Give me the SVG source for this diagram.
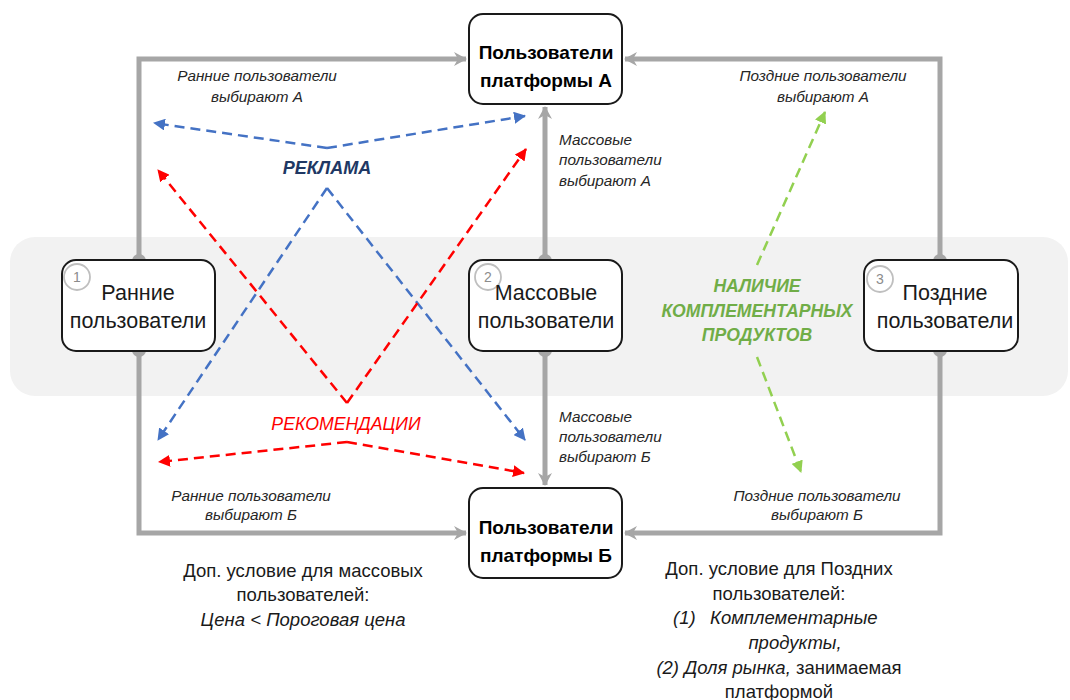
<svg xmlns="http://www.w3.org/2000/svg" width="1070" height="700" viewBox="0 0 1070 700">
<style>
.box{fill:#fff;stroke:#1a1a1a;stroke-width:2}
.nt{font-family:"Liberation Sans",Arial,sans-serif;font-size:21.5px;fill:#1a1a1a;text-anchor:middle}
.bt{font-family:"Liberation Sans",Arial,sans-serif;font-size:19px;font-weight:bold;fill:#000;text-anchor:middle}
.num{font-family:"Liberation Sans",Arial,sans-serif;font-size:14px;fill:#8c8c8c;text-anchor:middle}
.nc{fill:#fff;stroke:#bfbfbf;stroke-width:1.8}
.gl{fill:none;stroke:#a6a6a6;stroke-width:5;marker-end:url(#ga)}
.dot{fill:#a6a6a6}
.lb{font-family:"Liberation Sans",Arial,sans-serif;font-size:15.3px;font-style:italic;fill:#262626}
.c{text-anchor:middle}
.bl{fill:none;stroke:#4472c4;stroke-width:2.5;stroke-dasharray:10 6;marker-end:url(#ba)}
.rd{fill:none;stroke:#ff0000;stroke-width:2.5;stroke-dasharray:10 6;marker-end:url(#ra)}
.gr{fill:none;stroke:#92d050;stroke-width:2.5;stroke-dasharray:10 6;marker-end:url(#gra)}
.ft{font-family:"Liberation Sans",Arial,sans-serif;font-size:18.5px;fill:#1a1a1a;text-anchor:middle}
.it{font-style:italic}
</style>
<defs>
<marker id="ga" markerUnits="userSpaceOnUse" markerWidth="20" markerHeight="20" refX="13" refY="8" orient="auto" viewBox="0 0 20 16">
<path d="M1,1 L14,8 L1,15 L5,8 Z" fill="#a6a6a6"/>
</marker>
<marker id="ba" markerUnits="userSpaceOnUse" markerWidth="14" markerHeight="12" refX="11" refY="6" orient="auto" viewBox="0 0 14 12">
<path d="M0,0 L12,6 L0,12 Z" fill="#4472c4"/>
</marker>
<marker id="ra" markerUnits="userSpaceOnUse" markerWidth="14" markerHeight="12" refX="11" refY="6" orient="auto" viewBox="0 0 14 12">
<path d="M0,0 L12,6 L0,12 Z" fill="#ff0000"/>
</marker>
<marker id="gra" markerUnits="userSpaceOnUse" markerWidth="14" markerHeight="12" refX="11" refY="6" orient="auto" viewBox="0 0 14 12">
<path d="M0,0 L12,6 L0,12 Z" fill="#92d050"/>
</marker>
</defs>
<rect x="10" y="237" width="1058" height="159" rx="25" fill="#f2f2f2"/>
<g id="connectors">
<path class="gl" d="M139,260 V59 H466"/>
<path class="gl" d="M940,260 V59 H625"/>
<path class="gl" d="M545,260 V107"/>
<path class="gl" d="M545,351 V485"/>
<path class="gl" d="M139,351 V533 H466"/>
<path class="gl" d="M940,351 V533 H625"/>
<circle class="dot" cx="139" cy="261" r="7"/>
<circle class="dot" cx="139" cy="350" r="7"/>
<circle class="dot" cx="545" cy="261" r="7"/>
<circle class="dot" cx="545" cy="350" r="7"/>
<circle class="dot" cx="940" cy="261" r="7"/>
<circle class="dot" cx="940" cy="350" r="7"/>
<line class="bl" x1="327" y1="148" x2="154" y2="123"/>
<line class="bl" x1="327" y1="148" x2="525" y2="116"/>
<line class="bl" x1="327" y1="188" x2="158" y2="440"/>
<line class="bl" x1="327" y1="188" x2="525" y2="440"/>
<line class="rd" x1="347" y1="403" x2="158" y2="170"/>
<line class="rd" x1="347" y1="403" x2="526" y2="149"/>
<line class="rd" x1="347" y1="442" x2="159" y2="462"/>
<line class="rd" x1="347" y1="442" x2="524" y2="473"/>
<line class="gr" x1="757" y1="265" x2="825" y2="112"/>
<line class="gr" x1="757" y1="357" x2="801" y2="472"/>
</g>
<g id="labels">
<text class="lb c" x="257" y="81">Ранние пользователи</text>
<text class="lb c" x="257" y="102">выбирают А</text>
<text class="lb c" x="823" y="81">Поздние пользователи</text>
<text class="lb c" x="823" y="102">выбирают А</text>
<text class="lb" x="559" y="145">Массовые</text>
<text class="lb" x="559" y="165">пользователи</text>
<text class="lb" x="559" y="186">выбирают А</text>
<text class="lb" x="559" y="422">Массовые</text>
<text class="lb" x="559" y="442">пользователи</text>
<text class="lb" x="559" y="462">выбирают Б</text>
<text class="lb c" x="251" y="501">Ранние пользователи</text>
<text class="lb c" x="251" y="520">выбирают Б</text>
<text class="lb c" x="817" y="501">Поздние пользователи</text>
<text class="lb c" x="817" y="520">выбирают Б</text>
<text x="327" y="174" font-family="Liberation Sans,Arial,sans-serif" font-size="18" font-weight="bold" font-style="italic" fill="#203864" text-anchor="middle">РЕКЛАМА</text>
<text x="346" y="430" font-family="Liberation Sans,Arial,sans-serif" font-size="17.7" font-style="italic" fill="#ff0000" text-anchor="middle">РЕКОМЕНДАЦИИ</text>
<g font-family="Liberation Sans,Arial,sans-serif" font-size="17.6" font-weight="bold" font-style="italic" fill="#70ad47" text-anchor="middle">
<text x="757" y="292">НАЛИЧИЕ</text>
<text x="757" y="317">КОМПЛЕМЕНТАРНЫХ</text>
<text x="757" y="341">ПРОДУКТОВ</text>
</g>
<text class="ft" x="303" y="577">Доп. условие для массовых</text>
<text class="ft" x="303" y="601">пользователей:</text>
<text class="ft it" x="303" y="626">Цена &lt; Пороговая цена</text>
<text class="ft" x="779" y="575">Доп. условие для Поздних</text>
<text class="ft" x="779" y="600">пользователей:</text>
<text class="ft it" x="673" y="624" style="text-anchor:start">(1)</text>
<text class="ft it" x="710" y="624" style="text-anchor:start">Комплементарные</text>
<text class="ft it" x="795" y="649">продукты,</text>
<text class="ft" x="779" y="674"><tspan class="it">(2) Доля рынка,</tspan> занимаемая</text>
<text class="ft" x="779" y="698">платформой</text>
</g>
<g id="node-early">
<rect class="box" x="62" y="260" width="153" height="91" rx="14"/>
<circle class="nc" cx="77" cy="277" r="13"/>
<text class="num" x="77" y="282">1</text>
<text class="nt" x="138" y="300">Ранние</text>
<text class="nt" x="138" y="328">пользователи</text>
</g>
<g id="node-mass">
<rect class="box" x="469" y="260" width="153" height="91" rx="14"/>
<circle class="nc" cx="488" cy="277" r="13"/>
<text class="num" x="488" y="282">2</text>
<text class="nt" x="546" y="300">Массовые</text>
<text class="nt" x="546" y="328">пользователи</text>
</g>
<g id="node-late">
<rect class="box" x="864" y="260" width="154" height="91" rx="14"/>
<circle class="nc" cx="880" cy="279" r="13"/>
<text class="num" x="880" y="284">3</text>
<text class="nt" x="945" y="300">Поздние</text>
<text class="nt" x="945" y="328">пользователи</text>
</g>
<g id="node-platform-a">
<rect class="box" x="469" y="14" width="153" height="90" rx="14"/>
<text class="bt" x="546" y="59">Пользователи</text>
<text class="bt" x="546" y="87">платформы А</text>
</g>
<g id="node-platform-b">
<rect class="box" x="469" y="488" width="153" height="90" rx="14"/>
<text class="bt" x="546" y="534">Пользователи</text>
<text class="bt" x="546" y="562">платформы Б</text>
</g>
</svg>
